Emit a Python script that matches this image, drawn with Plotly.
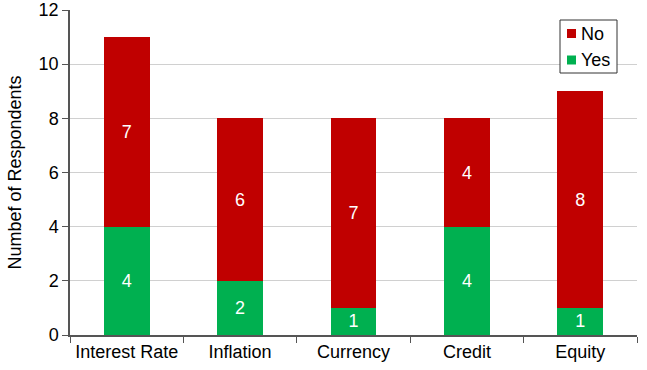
import plotly.graph_objects as go

categories = ["Interest Rate", "Inflation", "Currency", "Credit", "Equity"]
yes_vals = [4, 2, 1, 4, 1]
no_vals = [7, 6, 7, 4, 8]
y_ticks = [0, 2, 4, 6, 8, 10, 12]
legend_names = ["No", "Yes"]

RED = "#C00000"
GREEN = "#00B050"
font_family = "Liberation Sans, Arial, sans-serif"

fig = go.Figure()
fig.add_trace(go.Bar(
    x=categories, y=yes_vals, name="Yes",
    marker=dict(color=GREEN, line=dict(width=0)),
    text=[str(v) for v in yes_vals], textposition="inside",
    insidetextanchor="middle",
    textfont=dict(color="white", size=18, family=font_family),
    width=0.405,
))
fig.add_trace(go.Bar(
    x=categories, y=no_vals, name="No",
    marker=dict(color=RED, line=dict(width=0)),
    text=[str(v) for v in no_vals], textposition="inside",
    insidetextanchor="middle",
    textfont=dict(color="white", size=18, family=font_family),
    width=0.405,
))

W, H = 647, 370
ml, mr, mt, mb = 70, 10, 10, 35
pw, ph = W - ml - mr, H - mt - mb

def px_x(x):
    return (x - ml) / pw

def px_y(y):
    return 1 - (y - mt) / ph

shapes = []
annotations = []
# custom legend box
shapes.append(dict(type="rect", xref="paper", yref="paper",
                   x0=px_x(560), x1=px_x(617), y0=px_y(73), y1=px_y(20),
                   line=dict(color="#333333", width=1), fillcolor="white", layer="above"))
for i, (nm, col) in enumerate(zip(legend_names, [RED, GREEN])):
    cy = 33.5 + i * 26.5
    shapes.append(dict(type="rect", xref="paper", yref="paper",
                       x0=px_x(567), x1=px_x(576), y0=px_y(cy + 4.5), y1=px_y(cy - 4.5),
                       line=dict(width=0), fillcolor=col, layer="above"))
    annotations.append(dict(xref="paper", yref="paper", x=px_x(579), y=px_y(cy),
                            xanchor="left", yanchor="middle", showarrow=False,
                            text=nm, font=dict(size=18, family=font_family, color="black")))

fig.update_layout(
    barmode="stack",
    width=W, height=H,
    margin=dict(l=ml, r=mr, t=mt, b=mb, autoexpand=False),
    paper_bgcolor="white", plot_bgcolor="white",
    font=dict(family=font_family, size=18, color="black"),
    showlegend=False,
    shapes=shapes,
    annotations=annotations,
)
fig.update_xaxes(
    type="category",
    tickson="boundaries",
    ticks="outside", ticklen=6, tickcolor="#555555",
    showline=True, linecolor="#555555", linewidth=1.5,
    showgrid=False, automargin=False,
    tickfont=dict(size=18),
)
fig.update_yaxes(
    range=[0, 12], tickvals=y_ticks,
    ticks="outside", ticklen=6, tickcolor="#555555",
    showline=True, linecolor="#555555", linewidth=1.5,
    showgrid=True, gridcolor="#D0D0D0", gridwidth=1,
    zeroline=False, automargin=False,
    title=dict(text="Numbef of Respondents", font=dict(size=18), standoff=12),
    tickfont=dict(size=18),
)

fig.write_html("out.html", config={"displayModeBar": False},
               post_script="document.body.style.margin='0px';")
